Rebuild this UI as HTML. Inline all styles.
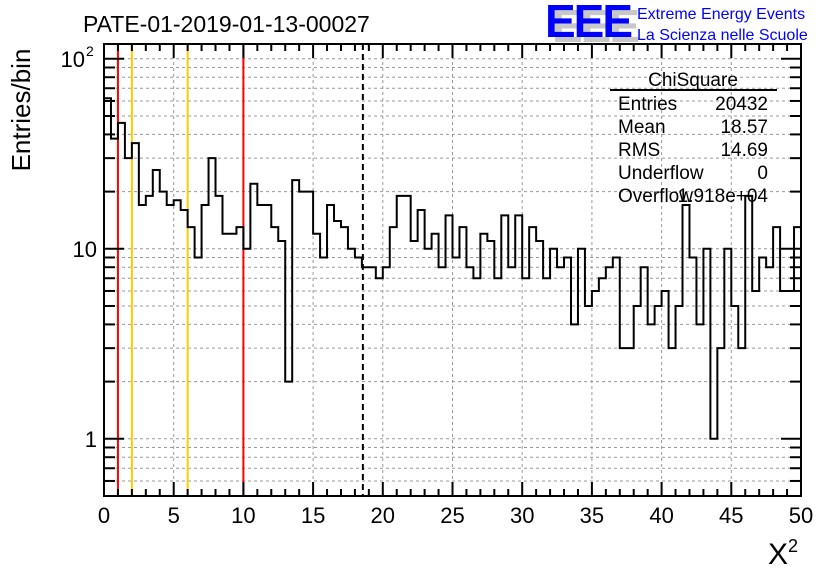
<!DOCTYPE html>
<html><head><meta charset="utf-8"><style>
body{margin:0;background:#fff}
svg text{font-family:"Liberation Sans",sans-serif}
</style></head><body>
<svg id="c" width="836" height="572" xmlns="http://www.w3.org/2000/svg">
<rect width="836" height="572" fill="#fff"/>
<text x="83" y="32" font-size="23">PATE-01-2019-01-13-00027</text>
<g>
<text x="552" y="42" font-size="46" font-weight="bold" fill="#c8c8c8" style="letter-spacing:-2px">EEE</text>
<text x="545" y="37" font-size="46" font-weight="bold" fill="#0000ff" style="letter-spacing:-2px">EEE</text>
<text x="637" y="19" font-size="16" fill="#0000ff">Extreme Energy Events</text>
<text x="637" y="40" font-size="16" fill="#0000ff">La Scienza nelle Scuole</text>
</g>
<g id="grid"></g>
<g id="marks"></g>
<g id="axes"></g>
<text transform="translate(30,110) rotate(-90)" text-anchor="middle" font-size="26">Entries/bin</text>
<text x="768" y="564" font-size="30" font-family="Liberation Serif,serif">X<tspan font-size="18" dy="-12">2</tspan></text>
<g font-size="19">
<text x="693" y="86" text-anchor="middle">ChiSquare</text>
<line x1="610" y1="90" x2="777" y2="90" stroke="#000" stroke-width="2"/>
<text x="618" y="110">Entries</text><text x="768" y="110" text-anchor="end">20432</text>
<text x="618" y="133">Mean</text><text x="768" y="133" text-anchor="end">18.57</text>
<text x="618" y="156">RMS</text><text x="768" y="156" text-anchor="end">14.69</text>
<text x="618" y="179">Underflow</text><text x="768" y="179" text-anchor="end">0</text>
<text x="618" y="202">Overflow</text><text x="768" y="202" text-anchor="end">1.918e+04</text>
</g>
</svg>
<script>
const binValues=[62,38,46,30,36,17,19,26,20,17,18,16,13,9,17,30,19,12,12,13,10,22,17,17,13,11,2,23,20,20,12,9,17,14,13,10,9,8,8,7,8,13,19,19,11,16,10,12,8,15,9,13,8,7,12,11,7,15,8,15,7,13,11,7,10,8,9,4,10,5,6,7,8,9,3,3,5,8,4,5,6,3,5,17,9,4,10,1,3,10,5,3,19,6,9,8,13,6,6,13];
const xMin=0,xMax=50,binWidth=0.5;
const xTickLabels=[0,5,10,15,20,25,30,35,40,45,50];
const redLines=[1,10];
const orangeLines=[2,6];
const meanValue=[18.57];
const L=104,R=801,T=44,B=496,logMin=Math.log10(0.5),pxDec=190;
const NS="http://www.w3.org/2000/svg";
const X=v=>L+(v-xMin)/(xMax-xMin)*(R-L);
const Y=v=>B-(Math.log10(v)-logMin)*pxDec;
function mk(p,tag,a){const e=document.createElementNS(NS,tag);for(const k in a)e.setAttribute(k,a[k]);p.appendChild(e);return e;}
const grid=document.getElementById('grid'),marks=document.getElementById('marks'),axes=document.getElementById('axes');
xTickLabels.forEach(t=>{if(t>xMin&&t<xMax){const l=mk(grid,'line',{x1:X(t),x2:X(t),y1:T,y2:B,stroke:'#999','stroke-dasharray':'3,3'});

}});
const yMinorVals=[];
[0.1,1,10,100].forEach(d=>{for(let m=1;m<10;m++){const vv=m*d;if(vv<0.5||Y(vv)<T||Y(vv)>B-1)continue;yMinorVals.push([vv,m===1]);}});
yMinorVals.forEach(p=>{const yy=Y(p[0]);
const l=mk(grid,'line',{x1:L,x2:R,y1:yy,y2:yy,stroke:'#999','stroke-dasharray':'3,3'});


const ml=p[1]?20:11;
const t1=mk(axes,'line',{x1:L,x2:L+ml,y1:yy,y2:yy,stroke:'#000','stroke-width':2});


const t2=mk(axes,'line',{x1:R,x2:R-ml,y1:yy,y2:yy,stroke:'#000','stroke-width':2});

});
redLines.forEach(v=>{const l=mk(marks,'line',{x1:X(v),x2:X(v),y1:T,y2:B,stroke:'#ff0000','stroke-width':2});

});
orangeLines.forEach(v=>{const l=mk(marks,'line',{x1:X(v),x2:X(v),y1:T,y2:B,stroke:'#ffcc00','stroke-width':2});

});
meanValue.forEach(v=>{const l=mk(marks,'line',{x1:X(v),x2:X(v),y1:T,y2:B,stroke:'#000','stroke-width':2,'stroke-dasharray':'6,4'});

});
let d='';binValues.forEach((v,i)=>{const x0=X(xMin+i*binWidth),x1=X(xMin+(i+1)*binWidth),y=Y(v);d+=(i===0?'M'+x0+','+y:'L'+x0+','+y)+'L'+x1+','+y;});
const h=mk(marks,'path',{d:d,fill:'none',stroke:'#000','stroke-width':2});


const fr=mk(axes,'rect',{x:L,y:T,width:R-L,height:B-T,fill:'none',stroke:'#000','stroke-width':2});


for(let t=xMin;t<=xMax;t++){const ml=t%5===0?14:7;
const a=mk(axes,'line',{x1:X(t),x2:X(t),y1:B,y2:B-ml,stroke:'#000','stroke-width':2});


const b=mk(axes,'line',{x1:X(t),x2:X(t),y1:T,y2:T+ml,stroke:'#000','stroke-width':2});

}
xTickLabels.forEach(t=>{const e=mk(axes,'text',{x:X(t),y:523,'text-anchor':'middle','font-size':22});e.textContent=t;

});
const yl=[[1,'1'],[10,'10']];
yl.forEach(p=>{const e=mk(axes,'text',{x:97,y:Y(p[0])+8,'text-anchor':'end','font-size':22});e.textContent=p[1];

});
const e=mk(axes,'text',{x:85,y:Y(100)+8,'text-anchor':'end','font-size':22});e.textContent='10';


const s=mk(axes,'text',{x:86,y:Y(100)-3,'font-size':14});s.textContent='2';


</script>
</body></html>
